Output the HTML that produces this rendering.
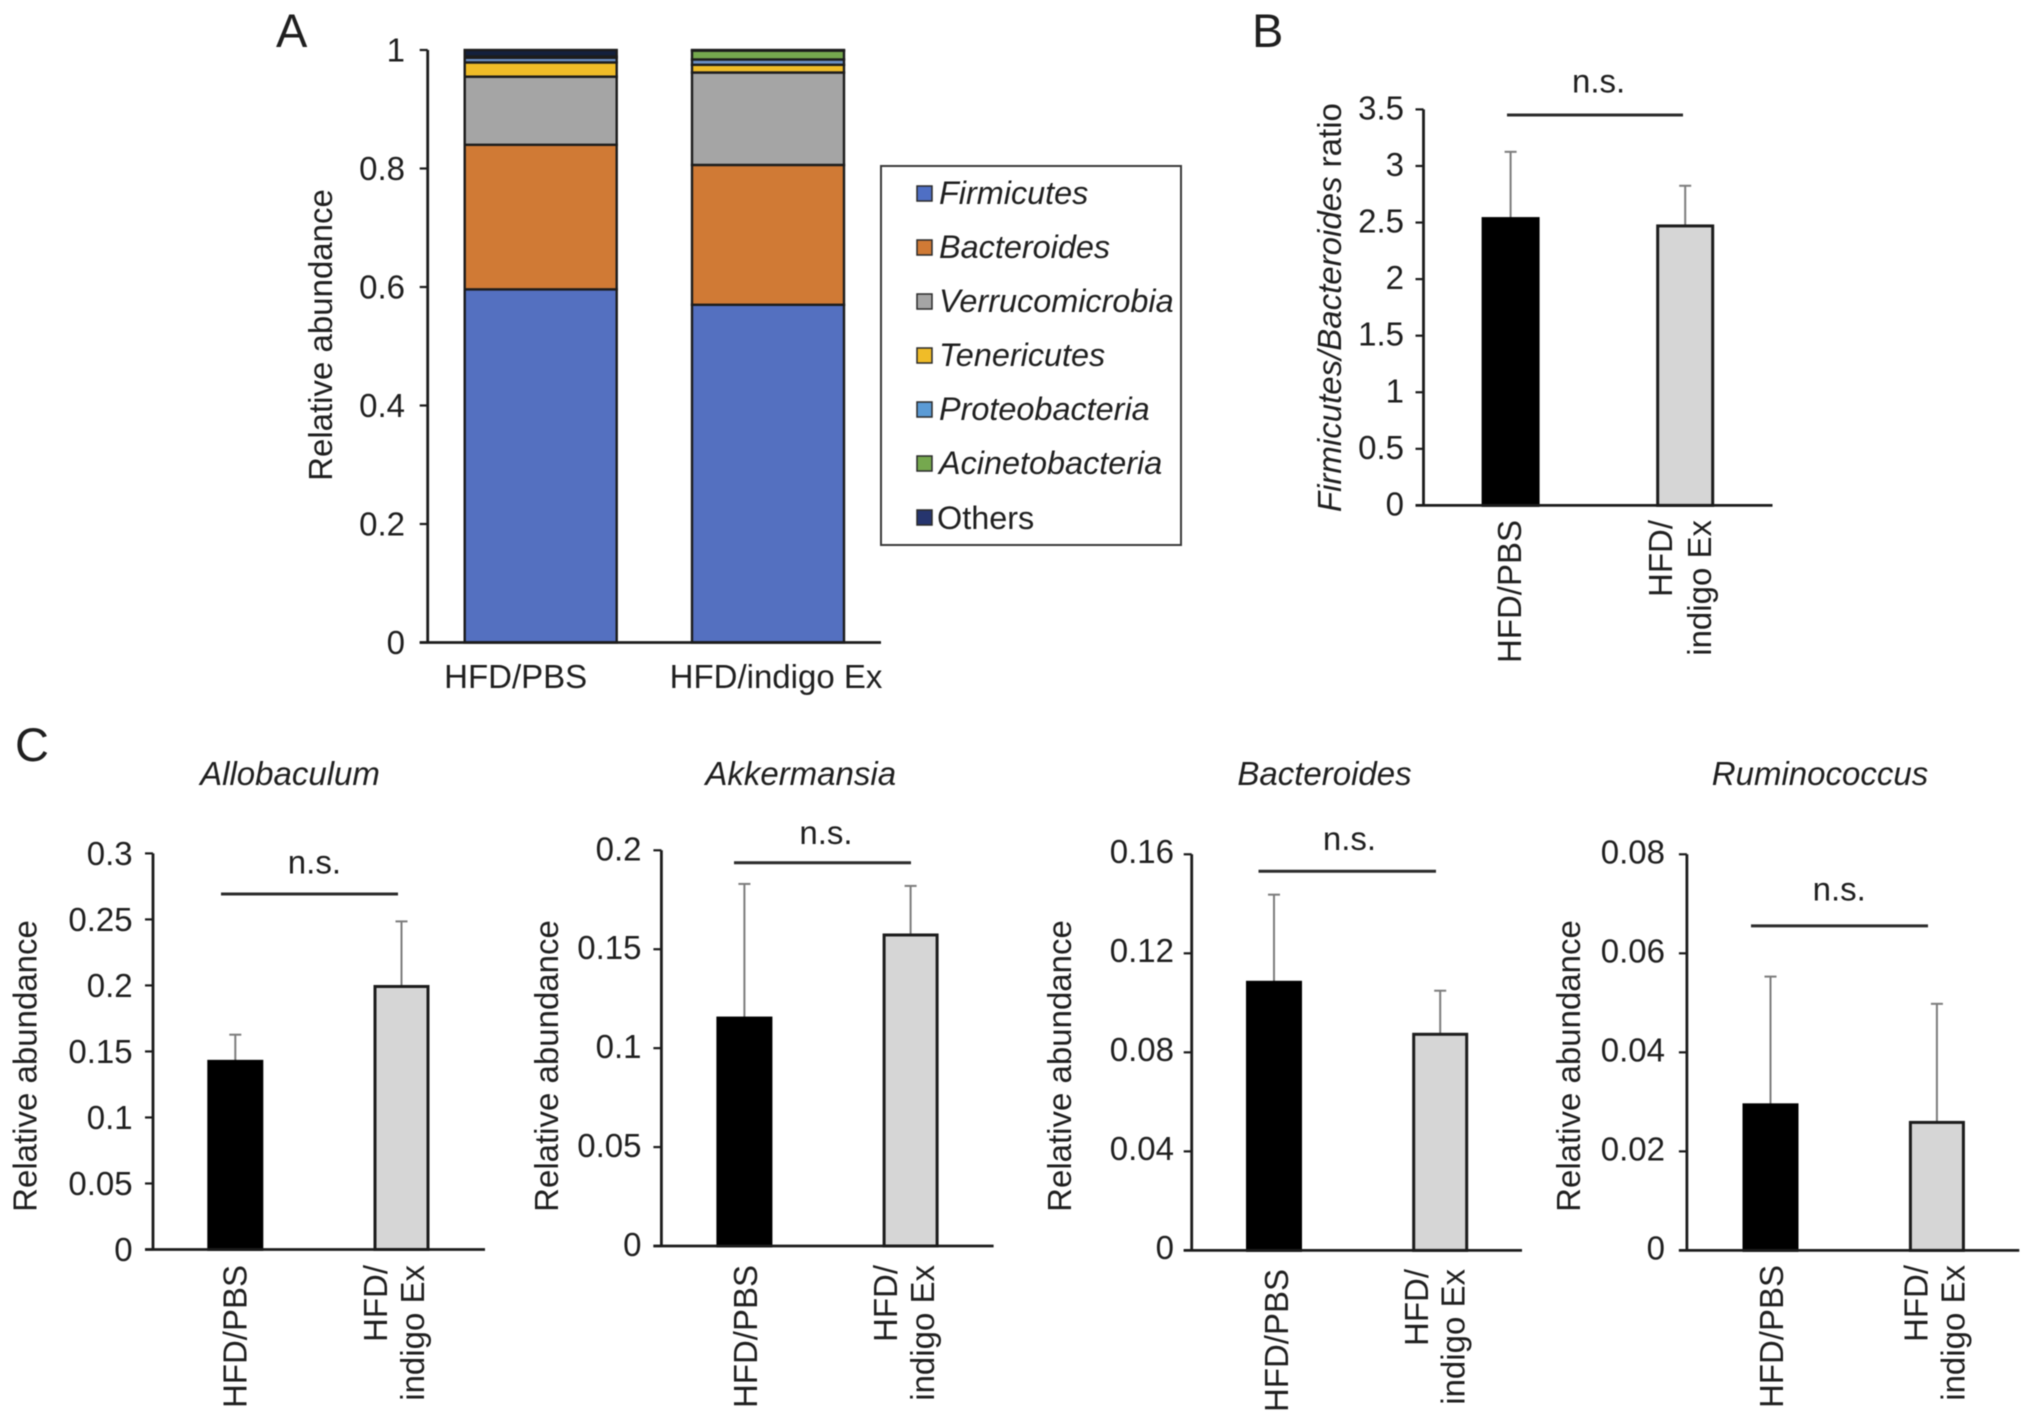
<!DOCTYPE html>
<html lang="en">
<head>
<meta charset="utf-8">
<title>Relative abundance of gut microbiota</title>
<style>
  html, body { margin: 0; padding: 0; background: #fff; }
  #figure { display: block; filter: blur(0.55px); }
  text { font-family: "Liberation Sans", sans-serif; font-size: 33px; fill: #1f1f1f; }
  .it { font-style: italic; }
  .letter { font-size: 47px; }
  .legend-text { font-size: 32.4px; }
</style>
</head>
<body>
<svg id="figure" xmlns="http://www.w3.org/2000/svg" width="2032" height="1422" viewBox="0 0 2032 1422">
  <rect width="2032" height="1422" fill="#fff"/>

  <text class="letter" x="276" y="47">A</text>
  <text class="letter" x="1252" y="47">B</text>
  <text class="letter" x="15" y="761">C</text>

  <text text-anchor="middle" transform="translate(332,335) rotate(-90)">Relative abundance</text>
  <text text-anchor="middle" transform="translate(1341,307.6) rotate(-90)"><tspan class="it">Firmicutes/Bacteroides</tspan> ratio</text>
  <text text-anchor="middle" transform="translate(36.5,1066) rotate(-90)">Relative abundance</text>
  <text text-anchor="middle" transform="translate(558,1066) rotate(-90)">Relative abundance</text>
  <text text-anchor="middle" transform="translate(1071,1066) rotate(-90)">Relative abundance</text>
  <text text-anchor="middle" transform="translate(1580,1066) rotate(-90)">Relative abundance</text>

  <text class="it" text-anchor="middle" x="290" y="785">Allobaculum</text>
  <text class="it" text-anchor="middle" x="800.7" y="785">Akkermansia</text>
  <text class="it" text-anchor="middle" x="1324.5" y="785">Bacteroides</text>
  <text class="it" text-anchor="middle" x="1820" y="785">Ruminococcus</text>

  <g id="legend">
    <rect x="881" y="166" width="300" height="379" fill="#fff" stroke="#3a3a3a" stroke-width="2"/>
    <g>
      <rect x="917" y="186" width="15" height="15" fill="#4f6fc4" stroke="#2a2a2a" stroke-width="1.5"/>
      <text class="it legend-text" x="939" y="204">Firmicutes</text>
    </g>
    <g>
      <rect x="917" y="240" width="15" height="15" fill="#d07a35" stroke="#2a2a2a" stroke-width="1.5"/>
      <text class="it legend-text" x="939" y="258">Bacteroides</text>
    </g>
    <g>
      <rect x="917" y="294" width="15" height="15" fill="#a5a5a5" stroke="#2a2a2a" stroke-width="1.5"/>
      <text class="it legend-text" x="939" y="312">Verrucomicrobia</text>
    </g>
    <g>
      <rect x="917" y="348" width="15" height="15" fill="#f0bc28" stroke="#2a2a2a" stroke-width="1.5"/>
      <text class="it legend-text" x="939" y="366">Tenericutes</text>
    </g>
    <g>
      <rect x="917" y="402" width="15" height="15" fill="#5b9bd5" stroke="#2a2a2a" stroke-width="1.5"/>
      <text class="it legend-text" x="939" y="420">Proteobacteria</text>
    </g>
    <g>
      <rect x="917" y="456" width="15" height="15" fill="#75a84e" stroke="#2a2a2a" stroke-width="1.5"/>
      <text class="it legend-text" x="939" y="474">Acinetobacteria</text>
    </g>
    <g>
      <rect x="917" y="510" width="15" height="15" fill="#26356e" stroke="#2a2a2a" stroke-width="1.5"/>
      <text class="legend-text" x="937" y="529">Others</text>
    </g>
  </g>
</svg>

<script>
// ---- Panel A data ----
const stackCategories = ["HFD/PBS", "HFD/indigo Ex"];
const stackTaxa = ["firmicutes", "bacteroides", "verrucomicrobia", "tenericutes", "proteobacteria", "acinetobacteria", "others"];
const stackColors = ["#5470c0", "#d07a35", "#a5a5a5", "#f0bc28", "#6b8fc4", "#75a84e", "#14203c"];
const stackHfdPbs = [0.596, 0.244, 0.115, 0.024, 0.008, 0.002, 0.011];
const stackHfdIndigo = [0.570, 0.236, 0.156, 0.013, 0.009, 0.015, 0.001];
const stackTicks = [0, 0.2, 0.4, 0.6, 0.8, 1];
const stackTickLabels = ["0", "0.2", "0.4", "0.6", "0.8", "1"];

// ---- Panel B data ----
const ratioMeans = [2.535, 2.470];
const ratioUpper = [3.125, 2.825];
const ratioTicks = [0, 0.5, 1, 1.5, 2, 2.5, 3, 3.5];
const ratioTickLabels = ["0", "0.5", "1", "1.5", "2", "2.5", "3", "3.5"];

// ---- Panel C data ----
const allobaculumMeans = [0.1425, 0.1992];
const allobaculumUpper = [0.1627, 0.2485];
const allobaculumTicks = [0, 0.05, 0.1, 0.15, 0.2, 0.25, 0.3];
const allobaculumTickLabels = ["0", "0.05", "0.1", "0.15", "0.2", "0.25", "0.3"];

const akkermansiaMeans = [0.1152, 0.1572];
const akkermansiaUpper = [0.183, 0.182];
const akkermansiaTicks = [0, 0.05, 0.1, 0.15, 0.2];
const akkermansiaTickLabels = ["0", "0.05", "0.1", "0.15", "0.2"];

const bacteroidesMeans = [0.1083, 0.0873];
const bacteroidesUpper = [0.1437, 0.1049];
const bacteroidesTicks = [0, 0.04, 0.08, 0.12, 0.16];
const bacteroidesTickLabels = ["0", "0.04", "0.08", "0.12", "0.16"];

const ruminococcusMeans = [0.0294, 0.02585];
const ruminococcusUpper = [0.0553, 0.0498];
const ruminococcusTicks = [0, 0.02, 0.04, 0.06, 0.08];
const ruminococcusTickLabels = ["0", "0.02", "0.04", "0.06", "0.08"];

const barGroups = ["hfd-pbs", "hfd-indigo-ex"];
const barCategoryLines = [["HFD/PBS"], ["HFD/", "indigo Ex"]];

// ---- Layout (geometry only) ----
const layoutRatio = { axisX: 1423.5, axisEnd: 1772.5, yTop: 109.4, yZero: 505.4, first: 1510.6, step: 174.6, barW: 55, tickEnd: 1404, tickShift: -1.5, lineX1: 1507, lineX2: 1683, lineY: 115, nsX: 1598.6, nsY: 92.5, labelTop: 520, baselines: [[1521], [1672, 1711]] };
const layoutAllobaculum = { axisX: 153, axisEnd: 485, yTop: 853.4, yZero: 1249.5, first: 235.3, step: 166.2, barW: 53, tickEnd: 132.6, tickShift: 0, lineX1: 221, lineX2: 398, lineY: 894, nsX: 314.4, nsY: 873.5, labelTop: 1265, baselines: [[246.7], [387, 424]] };
const layoutAkkermansia = { axisX: 661.4, axisEnd: 993.6, yTop: 850.3, yZero: 1246, first: 744.4, step: 166.2, barW: 53, tickEnd: 641.5, tickShift: -1.5, lineX1: 734, lineX2: 911, lineY: 862.8, nsX: 826, nsY: 844, labelTop: 1265, baselines: [[757], [897, 934]] };
const layoutBacteroides = { axisX: 1191.7, axisEnd: 1522, yTop: 854.3, yZero: 1250.4, first: 1274, step: 166.2, barW: 53, tickEnd: 1174, tickShift: -3, lineX1: 1258.5, lineX2: 1436, lineY: 871.3, nsX: 1349.5, nsY: 850, labelTop: 1269, baselines: [[1288], [1428, 1464.5]] };
const layoutRuminococcus = { axisX: 1686.9, axisEnd: 2019.3, yTop: 854.3, yZero: 1250.4, first: 1770.5, step: 166.4, barW: 53, tickEnd: 1665, tickShift: -2.5, lineX1: 1751, lineX2: 1928, lineY: 925.9, nsX: 1839.2, nsY: 900.5, labelTop: 1265, baselines: [[1782.8], [1927.5, 1964.5]] };

const SVG_NS = "http://www.w3.org/2000/svg";
const root = document.getElementById("figure");
const INK = "#1c1c1c";

function make(parent, tag, props, content) {
  const node = document.createElementNS(SVG_NS, tag);
  for (const key in props) node.setAttribute(key, props[key]);
  if (content !== undefined) node.textContent = content;
  parent.appendChild(node);
  return node;
}

function drawYAxis(group, prefix, layout, yOf, ticks, labels) {
  const axis = make(group, "line", { x1: layout.axisX, x2: layout.axisX, y1: yOf(ticks[ticks.length - 1]), y2: layout.yZero, stroke: INK, "stroke-width": 2.8 });
  
  
  const base = make(group, "line", { x1: layout.axisX - 8, x2: layout.axisEnd, y1: layout.yZero, y2: layout.yZero, stroke: INK, "stroke-width": 2.8 });
  
  
  const shift = layout.tickShift || 0;
  ticks.forEach(function (value, i) {
    const y = yOf(value);
    const mark = make(group, "line", { x1: layout.axisX - 8, x2: layout.axisX, y1: y, y2: y, stroke: INK, "stroke-width": 2.2 });
    
    
    const label = make(group, "text", { x: layout.tickEnd, y: y + 11.5 + shift, "text-anchor": "end" }, labels[i]);
    
    
  });
}

function drawBarPanel(prefix, layout, means, upper, ticks, labels) {
  const group = make(root, "g", {});
  
  
  const maxTick = ticks[ticks.length - 1];
  const yOf = function (v) { return layout.yZero - (v / maxTick) * (layout.yZero - layout.yTop); };
  const xOf = function (i) { return layout.first + i * layout.step; };

  means.forEach(function (mean, i) {
    const cx = xOf(i);
    const stem = make(group, "line", { x1: cx, x2: cx, y1: yOf(upper[i]), y2: yOf(mean), stroke: "#7c7c7c", "stroke-width": 2 });
    
    
    const cap = make(group, "line", { x1: cx - 6, x2: cx + 6, y1: yOf(upper[i]), y2: yOf(upper[i]), stroke: "#7c7c7c", "stroke-width": 2 });
    
    
    const bar = make(group, "rect", {
      x: cx - layout.barW / 2, y: yOf(mean), width: layout.barW, height: layout.yZero - yOf(mean),
      fill: i === 0 ? "#000" : "#d6d6d6", stroke: i === 0 ? "#000" : "#1c1c1c", "stroke-width": 3
    });
    
    

    barCategoryLines[i].forEach(function (line, j) {
      const label = make(group, "text", {
        "text-anchor": "end",
        transform: "translate(" + layout.baselines[i][j] + "," + layout.labelTop + ") rotate(-90)"
      }, line);
      
      
    });
  });

  drawYAxis(group, prefix, layout, yOf, ticks, labels);

  const sig = make(group, "line", { x1: layout.lineX1, x2: layout.lineX2, y1: layout.lineY, y2: layout.lineY, stroke: "#2c2c2c", "stroke-width": 3 });
  
  
  const ns = make(group, "text", { x: layout.nsX, y: layout.nsY, "text-anchor": "middle" }, "n.s.");
  
  
}

function drawStackPanel() {
  const layout = { axisX: 427.7, axisEnd: 881, yTop: 50, yZero: 642.5, tickEnd: 405, first: 540.7, step: 227.3, barW: 152, labelY: 688 };
  const group = make(root, "g", {});
  
  
  const maxTick = stackTicks[stackTicks.length - 1];
  const yOf = function (v) { return layout.yZero - (v / maxTick) * (layout.yZero - layout.yTop); };
  const xOf = function (i) { return layout.first + i * layout.step; };
  const labelCenters = [515.7, 776];

  [stackHfdPbs, stackHfdIndigo].forEach(function (values, i) {
    let running = 0;
    values.forEach(function (value, k) {
      const top = yOf(running + value);
      const bottom = yOf(running);
      const seg = make(group, "rect", {
        x: xOf(i) - layout.barW / 2, y: top, width: layout.barW, height: bottom - top,
        fill: stackColors[k], stroke: "#1c1c1c", "stroke-width": 2.4
      });
      
      
      running += value;
    });
    const label = make(group, "text", { x: labelCenters[i], y: layout.labelY, "text-anchor": "middle" }, stackCategories[i]);
    
    
  });

  drawYAxis(group, "stacked-abundance", layout, yOf, stackTicks, stackTickLabels);
}

drawStackPanel();
drawBarPanel("ratio", layoutRatio, ratioMeans, ratioUpper, ratioTicks, ratioTickLabels);
drawBarPanel("allobaculum", layoutAllobaculum, allobaculumMeans, allobaculumUpper, allobaculumTicks, allobaculumTickLabels);
drawBarPanel("akkermansia", layoutAkkermansia, akkermansiaMeans, akkermansiaUpper, akkermansiaTicks, akkermansiaTickLabels);
drawBarPanel("bacteroides", layoutBacteroides, bacteroidesMeans, bacteroidesUpper, bacteroidesTicks, bacteroidesTickLabels);
drawBarPanel("ruminococcus", layoutRuminococcus, ruminococcusMeans, ruminococcusUpper, ruminococcusTicks, ruminococcusTickLabels);
</script>
</body>
</html>
